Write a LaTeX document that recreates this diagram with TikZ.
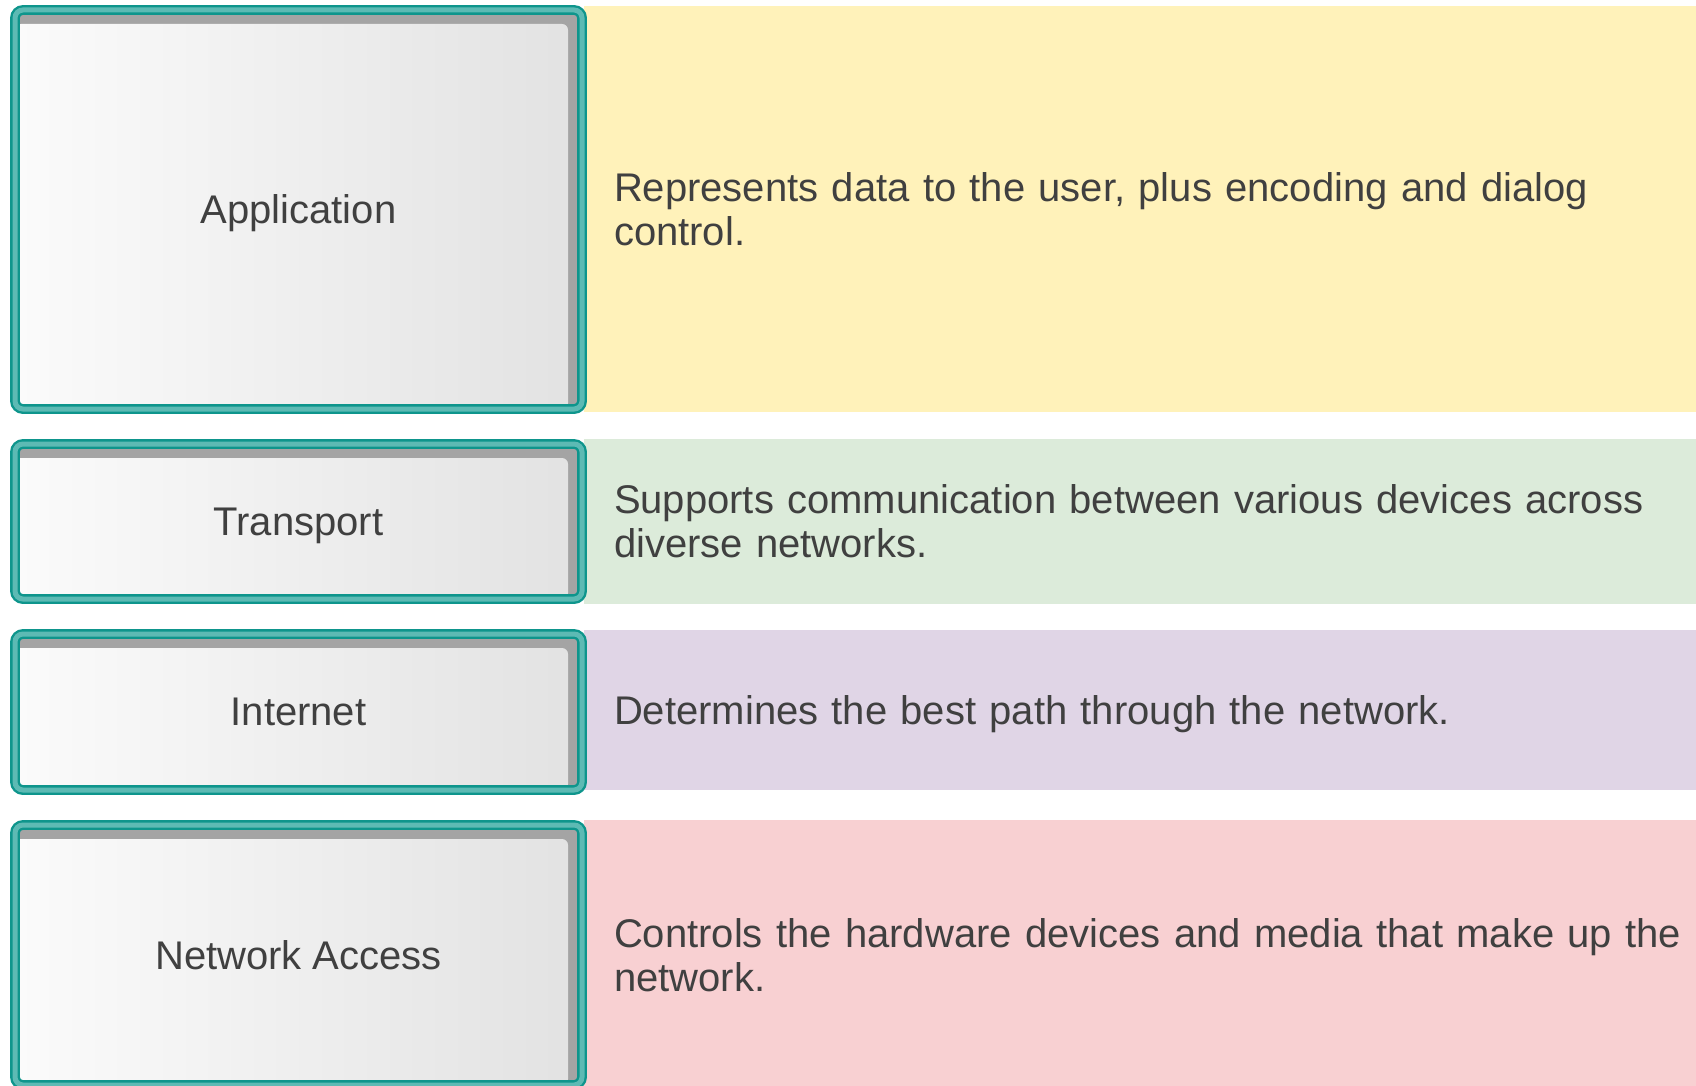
\documentclass[tikz,border=0pt]{standalone}
\usepackage{fontspec}
\setmainfont{Liberation Sans}
\definecolor{tealdark}{HTML}{0E958C}
\definecolor{teallight}{HTML}{5DBAB4}
\definecolor{shadowgray}{HTML}{A4A4A4}
\definecolor{boxlight}{HTML}{FBFBFB}
\definecolor{boxdark}{HTML}{E2E2E2}
\definecolor{labelgray}{HTML}{404040}
\definecolor{appyellow}{HTML}{FFF2BA}
\definecolor{transgreen}{HTML}{DCEBDA}
\definecolor{inetpurple}{HTML}{E0D5E6}
\definecolor{netpink}{HTML}{F8D0D2}
\tikzset{
  layerbox/.style={anchor=north west, minimum width=283.5pt, outer sep=0pt, rounded corners=4pt,
    draw=tealdark, double=teallight, line width=1.2pt, double distance=2.5pt, fill=shadowgray,
    text=labelgray, text depth=0pt, font=\fontsize{20}{22}\selectfont,
    path picture={\shade[left color=boxlight, right color=boxdark, rounded corners=3pt]
      ([yshift=-7pt]path picture bounding box.north west) rectangle ([xshift=-7pt]path picture bounding box.south east);}},
  descpanel/.style={anchor=north west, minimum width=556pt, text width=540pt, inner xsep=15pt, inner ysep=0pt,
    outer sep=0pt, align=left, text=labelgray, font=\fontsize{20}{22}\selectfont}
}
\begin{document}
\begin{tikzpicture}[x=0.5pt,y=-0.5pt]
\useasboundingbox (0,0) rectangle (1696,1086);
\node[descpanel, fill=appyellow, minimum height=203pt] (appdesc) at (584,6) {Represents data to the user, plus encoding and dialog\\control.};
\node[descpanel, fill=transgreen, minimum height=82.5pt] (transdesc) at (584,439) {Supports communication between various devices across\\diverse networks.};
\node[descpanel, fill=inetpurple, minimum height=80pt, text depth=0pt] (inetdesc) at (584,630) {Determines the best path through the network.};
\node[descpanel, fill=netpink, minimum height=135pt] (netdesc) at (584,820) {Controls the hardware devices and media that make up the\\network.};
\node[layerbox, minimum height=199.5pt] (app) at (15,10) {Application};
\node[layerbox, minimum height=77.5pt] (trans) at (15,444) {Transport};
\node[layerbox, minimum height=78pt] (inet) at (15,634) {Internet};
\node[layerbox, minimum height=130pt] (netacc) at (15,825) {Network Access};
\end{tikzpicture}
\end{document}
